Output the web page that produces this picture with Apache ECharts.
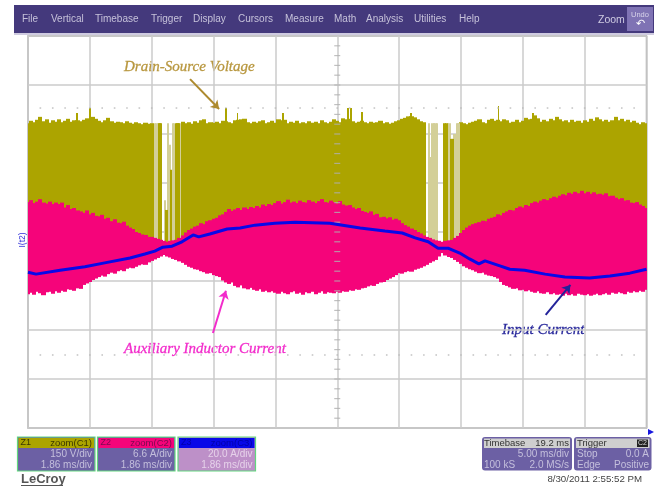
<!DOCTYPE html>
<html>
<head>
<meta charset="utf-8">
<style>
  html, body { margin: 0; padding: 0; background: #fff; }
  #chart { width: 659px; height: 487px; filter: blur(0.6px); }
</style>
<script src="https://cdn.jsdelivr.net/npm/echarts@6/dist/echarts.min.js"></script>
</head>
<body>
<div id="chart"></div>
<script>
// all traces are in screen divisions: x 0..10, y 0..8 from the bottom
const sampleStep = 0.05;

const oliveTop = [
  6.22,6.27,6.24,6.29,6.35,6.26,6.30,6.23,6.28,6.25,
  6.30,6.24,6.27,6.31,6.25,6.28,6.28,6.26,6.29,6.32,
  6.30,6.35,6.31,6.27,6.24,6.28,6.33,6.26,6.23,6.25,
  6.24,6.22,6.26,6.23,6.21,6.24,6.22,6.20,6.23,6.21,
  6.22,null,null,null,null,null,null,null,null,null,
  6.25,6.22,6.24,6.21,6.26,6.23,6.28,6.30,6.22,6.24,
  6.23,6.25,6.22,6.27,6.26,6.24,6.22,6.28,6.29,6.30,
  6.31,6.24,6.22,6.25,6.23,6.26,6.28,6.22,6.24,6.27,
  6.23,6.30,6.28,6.29,6.22,6.25,6.23,6.27,6.22,6.24,
  6.22,6.26,6.23,6.25,6.22,6.28,6.24,6.22,6.25,6.30,
  6.27,6.24,6.32,6.30,6.31,6.26,6.23,6.25,6.27,6.24,
  6.22,6.25,6.23,6.24,6.27,6.22,6.24,6.21,6.23,6.26,
  6.28,6.31,6.33,6.36,6.36,6.34,6.30,6.26,6.24,null,
  null,null,null,null,null,null,null,null,null,null,
  6.24,6.22,6.20,6.23,6.25,6.27,6.30,6.24,6.22,6.29,
  6.31,6.27,6.29,6.26,6.30,6.28,6.23,6.25,6.29,6.24,
  6.27,6.33,6.30,6.31,6.38,6.32,6.25,6.29,6.26,6.31,
  6.28,6.35,6.30,6.26,6.28,6.24,6.29,6.25,6.27,6.23,
  6.28,6.25,6.31,6.27,6.34,6.30,6.26,6.29,6.25,6.28,
  6.35,6.28,6.31,6.26,6.29,6.24,6.27,6.23,6.20,6.24,6.22
];

// thin ringing spikes above the olive envelope
const spikeX = [0.79,0.99,3.19,3.38,4.12,5.17,5.22,5.40,6.18,7.60,8.16];
const spikeTop = [6.43,6.53,6.53,6.43,6.43,6.53,6.53,6.45,6.43,6.57,6.43];

// sparse burst columns inside the two gaps
const gapOliveX = [2.11,2.13,2.23,2.30,2.38,2.40,2.42,6.72,6.75,6.83,6.85];
const gapOliveTop = [6.22,6.22,4.45,5.27,6.22,6.22,6.22,6.22,6.22,5.90,5.90];
const gapPaleX = [2.04,2.06,2.09,2.20,2.25,2.28,2.33,2.35,2.44,6.47,6.50,6.53,6.55,6.58,6.60,6.78,6.80,6.88,6.90,6.93,6.95];
const gapPaleTop = [6.22,6.22,6.22,4.65,6.22,5.78,6.22,6.22,6.22,6.22,5.53,6.22,6.22,6.22,6.22,6.22,6.22,6.00,6.00,6.22,6.22];
const oliveFloor = 3.7;

const pinkTop = [
  4.61,4.65,4.59,4.62,4.67,4.60,4.58,4.62,4.57,4.60,
  4.57,4.60,4.50,4.55,4.47,4.49,4.44,4.42,4.39,4.44,
  4.36,4.39,4.33,4.32,4.35,4.27,4.29,4.22,4.26,4.19,
  4.18,4.21,4.13,4.09,4.06,4.00,3.98,3.95,3.94,3.90,
  3.90,3.88,3.86,3.84,3.82,3.80,3.82,3.83,3.84,3.88,
  3.93,3.99,4.04,4.07,4.11,4.13,4.18,4.16,4.22,4.24,
  4.27,4.29,4.34,4.36,4.41,4.47,4.43,4.46,4.49,4.45,
  4.50,4.47,4.51,4.49,4.53,4.50,4.56,4.53,4.57,4.55,
  4.59,4.63,4.58,4.61,4.66,4.60,4.62,4.59,4.64,4.61,
  4.60,4.65,4.62,4.59,4.63,4.67,4.61,4.60,4.64,4.61,
  4.58,4.63,4.56,4.54,4.55,4.50,4.47,4.49,4.43,4.41,
  4.39,4.42,4.35,4.37,4.30,4.31,4.28,4.30,4.25,4.27,
  4.24,4.18,4.14,4.11,4.07,4.04,4.00,3.97,3.93,3.90,
  3.88,3.85,3.83,3.82,3.80,3.82,3.83,3.84,3.88,3.92,
  3.98,4.04,4.09,4.13,4.16,4.18,4.20,4.23,4.22,4.27,
  4.29,4.31,4.36,4.34,4.39,4.42,4.45,4.44,4.49,4.52,
  4.50,4.55,4.53,4.59,4.62,4.60,4.64,4.67,4.65,4.69,
  4.72,4.70,4.74,4.77,4.75,4.80,4.78,4.82,4.79,4.84,
  4.79,4.82,4.78,4.81,4.77,4.78,4.76,4.79,4.73,4.74,
  4.70,4.67,4.69,4.64,4.65,4.60,4.59,4.61,4.56,4.53,4.49
];

const pinkBottom = [
  2.73,2.76,2.72,2.78,2.75,2.71,2.77,2.78,2.74,2.79,
  2.76,2.80,2.78,2.83,2.82,2.80,2.85,2.84,2.92,2.95,
  2.98,3.02,3.05,3.08,3.11,3.09,3.14,3.17,3.15,3.20,
  3.22,3.20,3.25,3.27,3.26,3.29,3.32,3.34,3.33,3.38,
  3.41,3.44,3.47,3.50,3.53,3.50,3.48,3.45,3.43,3.40,
  3.37,3.33,3.29,3.27,3.24,3.23,3.20,3.18,3.15,3.16,
  3.12,3.10,3.08,3.01,2.97,2.94,2.97,2.90,2.87,2.91,
  2.85,2.83,2.86,2.82,2.80,2.83,2.78,2.80,2.77,2.79,
  2.76,2.74,2.78,2.75,2.73,2.77,2.79,2.74,2.76,2.72,
  2.77,2.75,2.78,2.73,2.76,2.79,2.74,2.77,2.76,2.75,
  2.78,2.76,2.79,2.78,2.81,2.80,2.83,2.82,2.85,2.86,
  2.89,2.91,2.90,2.94,2.97,2.98,3.02,3.05,3.08,3.12,
  3.16,3.15,3.18,3.20,3.19,3.23,3.25,3.27,3.30,3.33,
  3.37,3.40,3.43,3.50,3.57,3.52,3.49,3.47,3.43,3.39,
  3.35,3.30,3.27,3.24,3.22,3.19,3.16,3.17,3.13,3.11,
  3.10,3.08,3.05,2.98,2.92,2.90,2.87,2.84,2.85,2.81,
  2.82,2.79,2.81,2.78,2.76,2.79,2.75,2.74,2.77,2.73,
  2.75,2.72,2.73,2.70,2.74,2.71,2.73,2.70,2.74,2.72,
  2.71,2.73,2.70,2.72,2.74,2.71,2.73,2.75,2.72,2.76,
  2.74,2.77,2.75,2.73,2.78,2.76,2.79,2.77,2.80,2.78,2.82
];

const blueX = [0,0.13,0.52,0.92,1.24,1.65,1.89,2.05,2.18,2.33,2.49,2.67,2.76,2.94,3.22,3.43,3.67,3.99,4.32,4.88,5.37,5.77,6.05,6.26,6.47,6.63,6.79,6.98,7.14,7.29,7.39,7.63,7.79,8.03,8.36,8.68,9.08,9.41,9.73,10];
const blueY = [3.18,3.14,3.22,3.29,3.37,3.47,3.55,3.61,3.69,3.71,3.80,3.94,3.90,3.96,4.06,4.08,4.14,4.18,4.20,4.18,4.08,4.02,3.98,3.88,3.80,3.67,3.67,3.57,3.45,3.35,3.41,3.31,3.24,3.22,3.14,3.08,3.06,3.10,3.16,3.24];

const menuItems = ["File","Vertical","Timebase","Trigger","Display","Cursors","Measure","Math","Analysis","Utilities","Help"];
const menuLeft = [22,51,95,151,193,238,285,334,366,414,459];

const olive = "#aca400";
const pale = "#d3cf98";
const pink = "#f5047a";
const blue = "#0808e8";

const sampleX = pinkTop.map((_, i) => i * sampleStep);
const oliveData = oliveTop.map((v, i) => [sampleX[i] - sampleStep / 2, oliveFloor, v]).filter((d) => d[2] !== null);
const pinkData = pinkTop.map((v, i) => [sampleX[i] - sampleStep / 2, pinkBottom[i], v]);
const spikeData = spikeX.map((x, i) => [x, oliveFloor, spikeTop[i]]);
const gapOliveData = gapOliveX.map((x, i) => [x, oliveFloor, gapOliveTop[i]]);
const gapPaleData = gapPaleX.map((x, i) => [x, oliveFloor, gapPaleTop[i]]);

function columns(name, data, width, color) {
  return {
    name,
    type: "custom",
    clip: true,
    silent: true,
    data,
    renderItem(params, api) {
      const a = api.coord([api.value(0), api.value(2)]);
      const b = api.coord([api.value(0) + width, api.value(1)]);
      // whole-pixel edges, so neighbouring columns leave no seam
      const left = Math.floor(a[0]);
      const right = Math.ceil(b[0]);
      return { type: "rect", shape: { x: left, y: a[1], width: right - left, height: b[1] - a[1] }, style: { fill: color } };
    },
  };
}

// graticule marks: dotted rows and the ticks on the centre lines
const tickPos = [];
for (let i = 1; i < 50; i++) tickPos.push(i * 0.2);
const dotRows = [6.53, 1.49];
const dots = [];
dotRows.forEach((y) => tickPos.forEach((x) => dots.push([x, y])));
const centreTicksY = [];
for (let i = 1; i < 40; i++) centreTicksY.push([5, i * 0.2]);

function label(x, y, text, color, size, align, extra) {
  return {
    type: "text",
    x, y, silent: true,
    style: Object.assign({ text, fill: color, fontSize: size, fontFamily: "Liberation Sans", align: align || "left", verticalAlign: "middle" }, extra || {}),
  };
}
function box(x, y, w, h, fill, extra) {
  return Object.assign({ type: "rect", silent: true, shape: { x, y, width: w, height: h }, style: { fill } }, extra || {});
}
function channelPanel(x, w, head, id, title, line1, line2, bodyFill, textFill, headText) {
  return [
    box(x, 437, w, 34, bodyFill, { style: { fill: bodyFill, stroke: "#62d77e", lineWidth: 1.2 } }),
    box(x + 1, 438, w - 2, 10, head),
    label(x + 3, 443, id, headText, 9),
    label(x + w - 3, 443, title, headText, 9.5, "right"),
    label(x + w - 3, 454, line1, textFill, 10, "right"),
    label(x + w - 3, 465, line2, textFill, 10, "right"),
  ];
}

const purple = "#6c60a4";
const panelText = "#c4bfdc";
const annotation = { fontFamily: "Liberation Serif", fontStyle: "italic" };
const graphics = [
  box(14, 5, 640, 28, "#44397c"),
  box(14, 33, 640, 2, "#cfcbe0"),
  box(627, 7, 26, 24, "#7f73b4"),
  label(640, 15, "Undo", "#d8d4ea", 7.5, "center"),
  label(640, 24, "\u21b6", "#ffffff", 11, "center"),
  label(598, 20, "Zoom", "#cfcbe2", 10.5),
  ...menuItems.map((t, i) => label(menuLeft[i], 19.5, t, "#c6c2da", 10)),
  Object.assign(label(23, 240, "I(t2)", "#3030d8", 8.5, "center"), { rotation: Math.PI / 2 }),
  ...channelPanel(17.5, 77.5, olive, "Z1", "zoom(C1)", "150 V/div", "1.86 ms/div", purple, panelText, "#3a3600"),
  ...channelPanel(97.5, 77.5, pink, "Z2", "zoom(C2)", "6.6 A/div", "1.86 ms/div", purple, panelText, "#7a0a50"),
  ...channelPanel(178, 77.5, blue, "Z3", "zoom(C3)", "20.0 A/div", "1.86 ms/div", "#bd90c8", "#e6d2ea", "#0000a8"),
  box(482, 437, 90, 33.5, purple, { shape: { x: 482, y: 437, width: 90, height: 33.5, r: 3 } }),
  box(484, 438.5, 86, 9.5, "#cfcfcf"),
  label(484, 443, "Timebase", "#333", 9.5),
  label(569, 443, "19.2 ms", "#333", 9.5, "right"),
  label(569, 454, "5.00 ms/div", panelText, 10, "right"),
  label(484, 465, "100 kS", panelText, 10),
  label(569, 465, "2.0 MS/s", panelText, 10, "right"),
  box(574, 437, 77.5, 33.5, purple, { shape: { x: 574, y: 437, width: 77.5, height: 33.5, r: 3 } }),
  box(576, 438.5, 73.5, 9.5, "#cfcfcf"),
  label(577, 443, "Trigger", "#333", 9.5),
  box(637, 439.5, 11, 7.5, "#222"),
  label(642.5, 443.5, "C2", "#ddd", 7, "center"),
  label(577, 454, "Stop", panelText, 10),
  label(649, 454, "0.0 A", panelText, 10, "right"),
  label(577, 465, "Edge", panelText, 10),
  label(649, 465, "Positive", panelText, 10, "right"),
  { type: "polygon", silent: true, shape: { points: [[648, 429], [654, 432], [648, 435]] }, style: { fill: "#1818e0" } },
  label(21, 479, "LeCroy", "#555", 13, "left", { fontWeight: "bold" }),
  box(21, 485, 42, 1, "#555"),
  label(642, 479, "8/30/2011 2:55:52 PM", "#444", 9.7, "right"),
  label(124, 67, "Drain-Source Voltage", "#b8973f", 15, "left", Object.assign({ stroke: "#b8973f", lineWidth: 0.3 }, annotation)),
  label(124, 349, "Auxiliary Inductor Current", "#f22ccb", 15, "left", Object.assign({ stroke: "#f22ccb", lineWidth: 0.3 }, annotation)),
  label(502, 330, "Input Current", "#2a2a9c", 15, "left", Object.assign({ stroke: "#2a2a9c", lineWidth: 0.3 }, annotation)),
];

function arrow(from, to, color) {
  return [{ coord: from, lineStyle: { color, width: 2, type: "solid" } }, { coord: to }];
}

const chart = echarts.init(document.getElementById("chart"));
chart.setOption({
  animation: false,
  backgroundColor: "#fff",
  grid: { left: 28, right: 12.5, top: 36, height: 392, show: true, borderColor: "#a8a8a8", borderWidth: 1.5 },
  xAxis: {
    type: "value", min: 0, max: 10, interval: 1,
    axisLine: { show: false }, axisTick: { show: false }, axisLabel: { show: false },
    splitLine: { lineStyle: { color: "#cbcbcb", width: 1.5 } },
  },
  yAxis: {
    type: "value", min: 0, max: 8, interval: 1,
    axisLine: { show: false }, axisTick: { show: false }, axisLabel: { show: false },
    splitLine: { lineStyle: { color: "#cbcbcb", width: 1.5 } },
  },
  graphic: graphics,
  series: [
    { name: "dots", type: "scatter", silent: true, symbol: "rect", symbolSize: 1.6, itemStyle: { color: "#b8b8b8" }, data: dots },
    { name: "ticks", type: "scatter", silent: true, symbol: "rect", symbolSize: [6, 1.2], itemStyle: { color: "#b0b0b0" }, data: centreTicksY },
    columns("Drain-Source Voltage", oliveData, sampleStep, olive),
    columns("spikes", spikeData, 0.015, olive),
    columns("burst pale", gapPaleData, 0.026, pale),
    columns("burst", gapOliveData, 0.026, olive),
    columns("Auxiliary Inductor Current", pinkData, sampleStep, pink),
    {
      name: "Input Current",
      type: "line",
      silent: true,
      symbol: "none",
      lineStyle: { color: blue, width: 3 },
      data: blueX.map((x, i) => [x, blueY[i]]),
      markLine: {
        silent: true,
        animation: false,
        symbol: ["none", "arrow"],
        symbolSize: 8,
        label: { show: false },
        data: [
          arrow([2.62, 7.12], [3.09, 6.51], "#ad8a2e"),
          arrow([2.99, 1.94], [3.20, 2.80], "#f22ccb"),
          arrow([8.37, 2.31], [8.77, 2.92], "#23239a"),
        ],
      },
    },
  ],
});
</script>
</body>
</html>
